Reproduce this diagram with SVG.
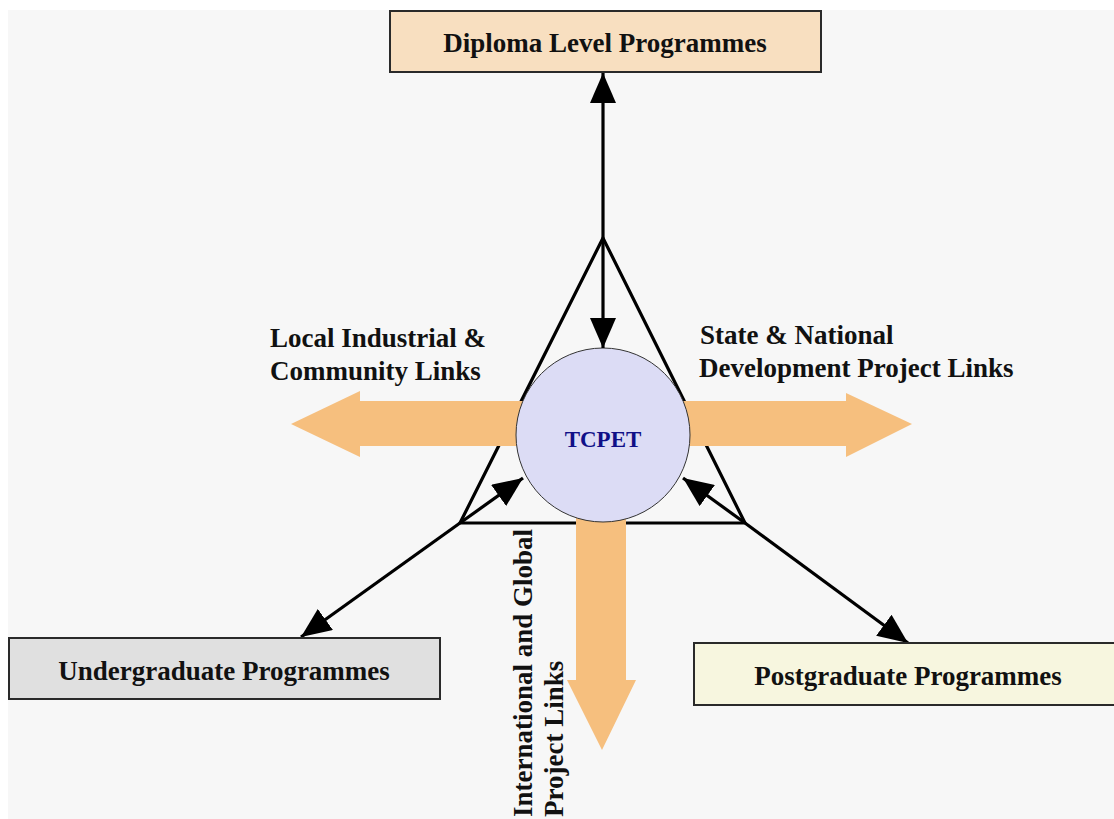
<svg xmlns="http://www.w3.org/2000/svg" width="1114" height="819" viewBox="0 0 1114 819">
  <style>
    .lbl { font-family: "Liberation Serif", "Times New Roman", serif; font-weight: bold; font-size: 27px; fill: #111; }
    .box { stroke: #2a2a2a; stroke-width: 2; }
    .link { stroke: #000; stroke-width: 3.2; fill: none; }
    .band { fill: #f6bf7e; }
  </style>
  <defs>
    <marker id="head" viewBox="0 0 30 26" refX="30" refY="13" markerWidth="30" markerHeight="26" markerUnits="userSpaceOnUse" orient="auto">
      <path d="M0,0 L30,13 L0,26 Z" fill="#000"/>
    </marker>
  </defs>

  <!-- page -->
  <rect x="0" y="0" width="1114" height="819" fill="#ffffff"/>
  <rect x="8" y="10" width="1106" height="809" fill="#f7f7f7"/>

  <!-- frame triangle around the hub -->
  <g id="frame">
    <path d="M603,238 L460,523 L745,523 Z" class="link" stroke-linejoin="miter"/>
  </g>

  <!-- outward link bands -->
  <g id="bands">
    <path class="band" d="M603,401 L360,401 L360,391 L291,424 L360,457 L360,446 L603,446 Z"/>
    <path class="band" d="M603,401 L846,401 L846,393 L912,424 L846,457 L846,446 L603,446 Z"/>
    <path class="band" d="M576,435 L576,680 L567,680 L602,750 L636,680 L626,680 L626,435 Z"/>
  </g>

  <!-- hub -->
  <g id="hub">
    <circle cx="603" cy="435" r="87" fill="#dcdcf5" stroke="#333" stroke-width="1"/>
    <text x="603" y="447" text-anchor="middle" font-family="Liberation Serif, Times New Roman, serif" font-weight="bold" font-size="23" fill="#101088">TCPET</text>
  </g>

  <!-- connectors -->
  <g id="connectors">
    <line x1="603" y1="238" x2="603" y2="73" class="link" marker-end="url(#head)"/>
    <line x1="603" y1="238" x2="603" y2="348" class="link" marker-end="url(#head)"/>
    <line x1="460" y1="523" x2="523" y2="478" class="link" marker-end="url(#head)"/>
    <line x1="460" y1="523" x2="301" y2="637" class="link" marker-end="url(#head)"/>
    <line x1="745" y1="523" x2="683" y2="478" class="link" marker-end="url(#head)"/>
    <line x1="745" y1="523" x2="908" y2="643" class="link" marker-end="url(#head)"/>
  </g>

  <!-- programme boxes -->
  <g id="diploma">
    <rect x="390" y="11" width="431" height="61" fill="#f8dfc0" class="box"/>
    <text x="605" y="52" text-anchor="middle" class="lbl">Diploma Level Programmes</text>
  </g>
  <g id="undergraduate">
    <rect x="9" y="638" width="431" height="61" fill="#e0e0e0" class="box"/>
    <text x="224" y="680" text-anchor="middle" class="lbl">Undergraduate Programmes</text>
  </g>
  <g id="postgraduate">
    <rect x="694" y="643" width="430" height="62" fill="#f7f6df" class="box"/>
    <text x="908" y="685" text-anchor="middle" class="lbl">Postgraduate Programmes</text>
  </g>

  <!-- band labels -->
  <g id="local-links">
    <text x="270" y="347" class="lbl">Local Industrial &amp;</text>
    <text x="270" y="380" class="lbl">Community Links</text>
  </g>
  <g id="state-links">
    <text x="700" y="344" class="lbl">State &amp; National</text>
    <text x="699" y="377" class="lbl">Development Project Links</text>
  </g>
  <g id="global-links">
    <text transform="translate(532,817) rotate(-90)" class="lbl">International and Global</text>
    <text transform="translate(563,817) rotate(-90)" class="lbl">Project Links</text>
  </g>
</svg>
